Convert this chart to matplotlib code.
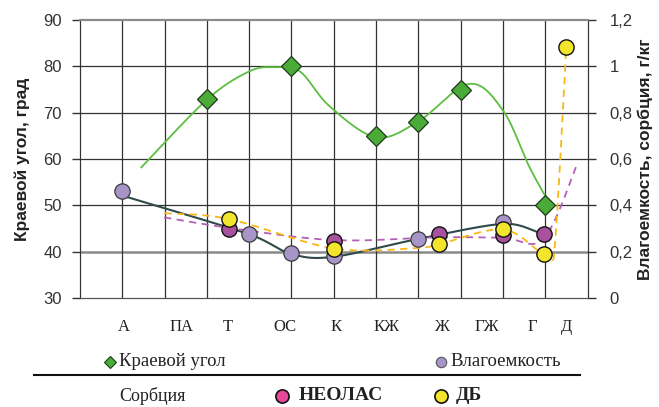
import numpy as np
import matplotlib
matplotlib.use("Agg")
import matplotlib.pyplot as plt
from matplotlib.lines import Line2D

# ---- data -------------------------------------------------------------
categories = ["А", "ПА", "Т", "ОС", "К", "КЖ", "Ж", "ГЖ", "Г", "Д"]
category_pos = [1.04, 2.40, 3.49, 4.84, 6.06, 7.25, 8.54, 9.61, 10.69, 11.50]

# contact angle, degrees (left axis)
angle_x = [3, 5, 7, 8, 9, 11]
angle_y = [73, 80, 65, 68, 75, 50]
angle_curve_x = [1.45, 3.0, 4.0, 4.6, 5.2, 5.9, 7.0, 8.0, 9.2, 10.0, 10.62, 11.1]
angle_curve_y = [58.2, 72.8, 78.9, 79.8, 78.9, 71.4, 64.7, 68.1, 76.2, 70.5, 58.4, 50.4]

# moisture capacity, g/kg (right axis)
moist_x = [1, 4, 5, 6, 8, 10]
moist_y = [0.462, 0.275, 0.193, 0.180, 0.254, 0.330]
moist_curve_x = [1, 4, 5, 6, 8, 10, 10.8]
moist_curve_y = [0.442, 0.275, 0.190, 0.178, 0.255, 0.320, 0.286]

# sorption, g/kg (right axis)
neolas_x = [3.52, 6.0, 8.49, 10.0, 10.96]
neolas_y = [0.299, 0.248, 0.275, 0.272, 0.275]
neolas_curve_x = [1.99, 3.52, 6.0, 8.5, 10.0, 10.96, 11.76]
neolas_curve_y = [0.348, 0.303, 0.250, 0.262, 0.260, 0.256, 0.580]

db_x = [3.52, 6.0, 8.49, 10.0, 10.96, 11.5]
db_y = [0.341, 0.210, 0.232, 0.298, 0.188, 1.085]
db_curve_x = [2.0, 3.52, 6.0, 8.0, 8.5, 10.0, 10.96, 11.2, 11.5]
db_curve_y = [0.366, 0.341, 0.214, 0.216, 0.232, 0.296, 0.186, 0.172, 1.085]

left_ticks = [30, 40, 50, 60, 70, 80, 90]
right_ticks = [0, 0.2, 0.4, 0.6, 0.8, 1.0, 1.2]
right_tick_labels = ["0", "0,2", "0,4", "0,6", "0,8", "1", "1,2"]

# ---- styling ----------------------------------------------------------
SANS = "Liberation Sans"
SERIF = "Liberation Serif"
GREEN_LINE = "#5cbf3f"
GREEN_MARK = "#4aab38"
DARK_LINE = "#2f4a4a"
MOIST_MARK = "#a795c8"
NEOLAS_MARK = "#a8519f"
NEOLAS_DASH = "#b460b8"
DB_MARK = "#f2e52c"
DB_DASH = "#f7b718"
GRID = "#333333"
AX_COL = "#333333"

W, H = 659, 407
fig = plt.figure(figsize=(W / 100, H / 100), dpi=100)
x0, x1, ytop, ybot = 80, 587.5, 20, 298
ax = fig.add_axes([x0 / W, 1 - ybot / H, (x1 - x0) / W, (ybot - ytop) / H])
ax2 = ax.twinx()

ax.set_xlim(0, 12)
ax.set_ylim(30, 90)
ax2.set_ylim(0, 1.2)


def smooth(axis, xs, ys, n=40):
    """Smoothed line (Catmull-Rom Bezier in display space, limited overshoot)."""
    pts = axis.transData.transform(np.column_stack([xs, ys]))
    P = np.vstack([pts[0], pts, pts[-1]])
    t = np.linspace(0, 1, n)[:, None]
    segs = []
    for i in range(1, len(P) - 2):
        p0, p1, p2, p3 = P[i - 1], P[i], P[i + 1], P[i + 2]
        seg_len = np.hypot(*(p2 - p1))
        d1 = (p2 - p0) / 6
        d2 = (p3 - p1) / 6
        for d in (d1, d2):
            n_d = np.hypot(*d)
            if n_d > 0.5 * seg_len and n_d > 0:
                d *= 0.5 * seg_len / n_d
        c1 = p1 + d1
        c2 = p2 - d2
        segs.append((1 - t) ** 3 * p1 + 3 * (1 - t) ** 2 * t * c1
                    + 3 * (1 - t) * t ** 2 * c2 + t ** 3 * p2)
    curve = axis.transData.inverted().transform(np.vstack(segs))
    return curve[:, 0], curve[:, 1]


# grid: vertical lines on major ticks, category names on minor ticks
ax.set_xticks(range(1, 12))
ax.set_xticklabels([])
ax.set_xticks(category_pos, minor=True)
ax.set_xticklabels(categories, minor=True, fontfamily=SERIF, fontsize=12,
                   color="#222222")
ax.tick_params(axis="x", which="both", length=0, pad=15)
ax.grid(axis="x", which="major", color=GRID, lw=0.9)

ax.set_yticks(left_ticks)
ax.set_yticklabels([str(v) for v in left_ticks], fontfamily=SANS,
                   fontsize=12, color=AX_COL)
ax.tick_params(axis="y", direction="out", length=6, width=1, color=AX_COL,
               pad=7)
for v in left_ticks[1:-1]:
    if v == 40:
        ax.axhline(v, color="#8a8a8a", lw=1.8, zorder=0.5)
    else:
        ax.axhline(v, color=GRID, lw=0.9, zorder=0.5)

ax2.set_yticks(right_ticks)
ax2.set_yticklabels(right_tick_labels, fontfamily=SANS, fontsize=12,
                    color=AX_COL)
ax2.tick_params(axis="y", direction="out", length=6, width=1, color=AX_COL,
                pad=10)

for a in (ax, ax2):
    a.spines["left"].set_color(AX_COL)
    a.spines["right"].set_color(AX_COL)
    a.spines["bottom"].set_color("#555555")
    a.spines["top"].set_color("#8a8a8a")
    a.spines["top"].set_linewidth(1.5)

ax.set_ylabel("Краевой угол, град", fontfamily=SANS, fontsize=12.5,
              fontweight="bold", color="#222222")
ax.yaxis.set_label_coords(-0.099, 0.5)
ax2.set_ylabel("Влагоемкость, сорбция, г/кг", fontfamily=SANS, fontsize=12.5,
               fontweight="bold", color="#222222", rotation=90)
ax2.yaxis.set_label_coords(1.098, 0.5)

# contact angle
cx, cy = smooth(ax, angle_curve_x, angle_curve_y)
ax.plot(cx, cy, color=GREEN_LINE, lw=1.3, zorder=3)
ax.plot(angle_x, angle_y, ls="none", marker="D", ms=10.5, mfc=GREEN_MARK,
        mec="#1e3a1a", mew=0.9, zorder=4)

# moisture capacity and sorption
mx, my = smooth(ax2, moist_curve_x, moist_curve_y)
ax2.plot(mx, my, color=DARK_LINE, lw=1.5, zorder=3)
nx, ny = smooth(ax2, neolas_curve_x, neolas_curve_y)
ax2.plot(nx, ny, color=NEOLAS_DASH, lw=1.3, ls=(0, (4, 3)), zorder=3)
dx, dy = smooth(ax2, db_curve_x, db_curve_y)
ax2.plot(dx, dy, color=DB_DASH, lw=1.3, ls=(0, (4, 3)), zorder=3)

ax2.plot(moist_x, moist_y, ls="none", marker="o", ms=11, mfc=MOIST_MARK,
         mec="#3a3a3a", mew=0.9, zorder=4)
ax2.plot(neolas_x, neolas_y, ls="none", marker="o", ms=11, mfc=NEOLAS_MARK,
         mec="#111111", mew=1.0, zorder=5)
ax2.plot(db_x, db_y, ls="none", marker="o", ms=11, mfc=DB_MARK,
         mec="#111111", mew=1.0, zorder=6)

# ---- legend (figure coordinates) -------------------------------------
def fx(px):
    return px / W


def fy(py):
    return 1 - py / H


fig.add_artist(Line2D([fx(110)], [fy(361.5)], marker="D", ms=6.5,
                      mfc=GREEN_MARK, mec="#1e3a1a", mew=0.8, ls="none"))
fig.text(fx(119), fy(361.5), "Краевой угол", fontfamily=SERIF, fontsize=13.5,
         va="center", ha="left", color="#222222")
fig.add_artist(Line2D([fx(441)], [fy(362)], marker="o", ms=7.5,
                      mfc=MOIST_MARK, mec="#555555", mew=0.8, ls="none"))
fig.text(fx(450), fy(362), "Влагоемкость", fontfamily=SERIF, fontsize=13.5,
         va="center", ha="left", color="#222222")
fig.add_artist(Line2D([fx(34), fx(580)], [fy(374.5), fy(374.5)],
                      color="#111111", lw=1.5))
fig.text(fx(119), fy(396), "Сорбция", fontfamily=SERIF, fontsize=13,
         va="center", ha="left", color="#222222")
fig.add_artist(Line2D([fx(282)], [fy(396)], marker="o", ms=9.5,
                      mfc="#e8479a", mec="#111111", mew=1.2, ls="none"))
fig.text(fx(299), fy(396), "НЕОЛАС", fontfamily=SERIF, fontsize=14,
         fontweight="bold", va="center", ha="left", color="#222222")
fig.add_artist(Line2D([fx(441)], [fy(396)], marker="o", ms=9.5,
                      mfc=DB_MARK, mec="#111111", mew=1.2, ls="none"))
fig.text(fx(456), fy(396), "ДБ", fontfamily=SERIF, fontsize=14,
         fontweight="bold", va="center", ha="left", color="#222222")

fig.savefig("out.png", dpi=100)
